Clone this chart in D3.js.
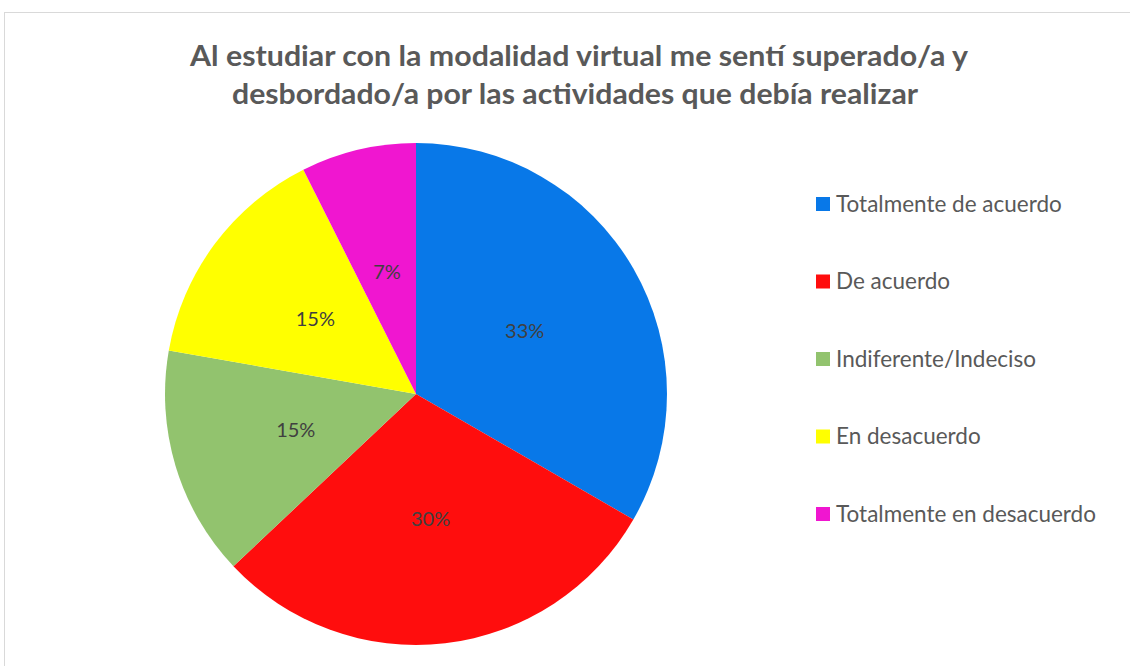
<!DOCTYPE html>
<html><head><meta charset="utf-8">
<script src="https://cdn.jsdelivr.net/npm/d3@7"></script>
<style>body{margin:0;background:#fff;} svg{display:block;}</style>
</head><body>
<svg id="chart" width="1130" height="666"></svg>
<script>
const titleLines = ["Al estudiar con la modalidad virtual me sentí superado/a y", "desbordado/a por las actividades que debía realizar"];
const categories = ["Totalmente de acuerdo", "De acuerdo", "Indiferente/Indeciso", "En desacuerdo", "Totalmente en desacuerdo"];
const values = [9, 8, 4, 4, 2];
const colors = ["#0878E8", "#FF0D0D", "#92C36E", "#FFFF00", "#F016D0"];

const svg = d3.select("#chart");
svg.append("rect").attr("x", 4.5).attr("y", 12.5).attr("width", 1140).attr("height", 670)
  .attr("fill", "#fff").attr("stroke", "#d9d9d9").attr("stroke-width", 1);

const titleY = [66, 104];
const titleW = [778, 686];
const titleX = [579, 575];
svg.selectAll("text.title").data(titleLines).join("text").attr("class", "title")
  .attr("x", (d, i) => titleX[i]).attr("y", (d, i) => titleY[i]).attr("text-anchor", "middle")
  .attr("font-family", "Lato, 'Open Sans', sans-serif").attr("font-weight", "bold")
  .attr("font-size", 29).attr("fill", "#595959")
  .attr("textLength", (d, i) => titleW[i]).attr("lengthAdjust", "spacingAndGlyphs")
  .text(d => d);

const cx = 416, cy = 394, r = 251;
const total = d3.sum(values);
const pie = d3.pie().sort(null).value(d => d);
const arcs = pie(values);
const arc = d3.arc().innerRadius(0).outerRadius(r);
const labelArc = d3.arc().innerRadius(r / 2).outerRadius(r / 2);
const g = svg.append("g").attr("transform", `translate(${cx},${cy})`);
g.selectAll("path").data(arcs).join("path").attr("d", arc)
  .attr("fill", (d, i) => colors[i]);
g.selectAll("text").data(arcs).join("text")
  .attr("transform", d => `translate(${labelArc.centroid(d)})`)
  .attr("text-anchor", "middle").attr("dy", "0.35em")
  .attr("font-family", "Lato, 'Open Sans', sans-serif").attr("font-size", 20)
  .attr("fill", "#404040")
  .text(d => Math.round(d.value / total * 100) + "%");

const legY = d3.scalePoint().domain(categories).range([204, 514]);
const leg = svg.append("g");
const items = leg.selectAll("g").data(categories).join("g")
  .attr("transform", d => `translate(816,${legY(d)})`);
items.append("rect").attr("x", 0).attr("y", -7).attr("width", 14).attr("height", 14)
  .attr("fill", (d, i) => colors[i]);
items.append("text").attr("x", 20).attr("y", 0).attr("dy", "0.35em")
  .attr("font-family", "Lato, 'Open Sans', sans-serif").attr("font-size", 22.5)
  .attr("fill", "#595959").text(d => d);
</script>
</body></html>
